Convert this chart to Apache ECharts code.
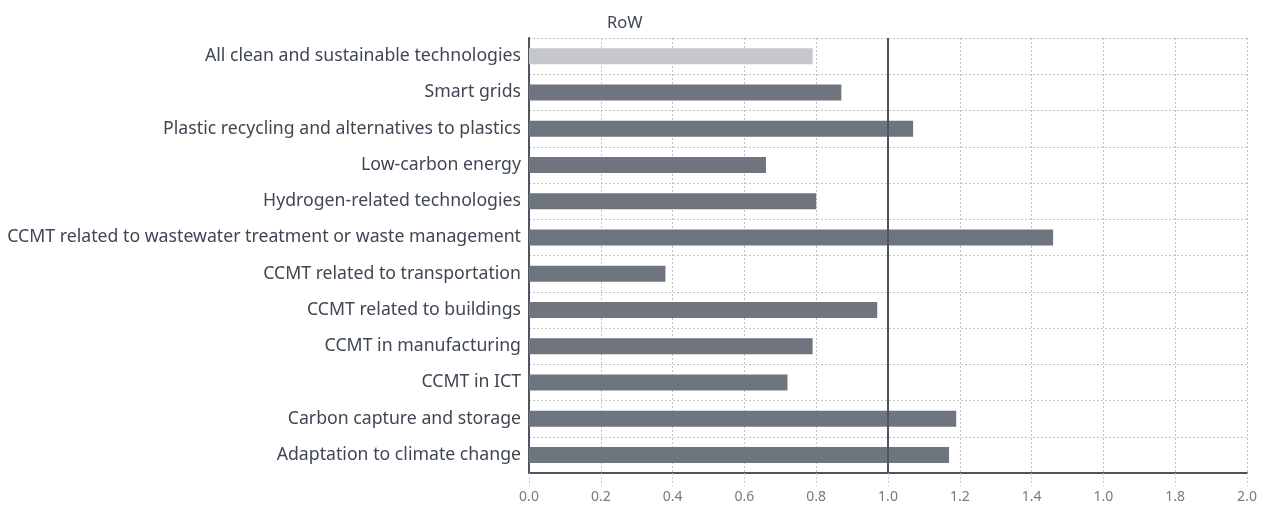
<!DOCTYPE html>
<html>
<head>
<meta charset="utf-8">
<script src="https://cdn.jsdelivr.net/npm/echarts@6/dist/echarts.min.js"></script>
<style>
  html, body { margin: 0; padding: 0; background: #ffffff; }
  #chart { width: 1263px; height: 511px; }
</style>
</head>
<body>
<div id="chart"></div>
<script>
// Technology fields, top to bottom
const categories = [
  'All clean and sustainable technologies',
  'Smart grids',
  'Plastic recycling and alternatives to plastics',
  'Low-carbon energy',
  'Hydrogen-related technologies',
  'CCMT related to wastewater treatment or waste management',
  'CCMT related to transportation',
  'CCMT related to buildings',
  'CCMT in manufacturing',
  'CCMT in ICT',
  'Carbon capture and storage',
  'Adaptation to climate change'
];

// Index values for RoW
const values = [0.79, 0.87, 1.07, 0.66, 0.80, 1.46, 0.38, 0.97, 0.79, 0.72, 1.19, 1.17];

// Labels printed under the value axis, one per 0.2 step
const xTickLabels = ['0.0', '0.2', '0.4', '0.6', '0.8', '1.0', '1.2', '1.4', '1.0', '1.8', '2.0'];

const panelTitle = 'RoW';
const referenceValue = 1.0;

const DARK = '#6e757f';
const LIGHT = '#c6c7ca';
const GRID = '#bfc2c7';
const AXIS = '#4d5464';

const chart = echarts.init(document.getElementById('chart'), null, { renderer: 'canvas' });

chart.setOption({
  backgroundColor: '#ffffff',
  animation: false,
  title: {
    text: panelTitle,
    left: 602,
    top: 10,
    textStyle: { fontFamily: 'Noto Sans', fontSize: 16.5, fontWeight: 'normal', color: '#3f4654' }
  },
  grid: { left: 529, right: 16, top: 38, bottom: 38, containLabel: false },
  xAxis: {
    type: 'value',
    min: 0,
    max: 2,
    interval: 0.2,
    axisLine: { show: true, lineStyle: { color: AXIS, width: 2 } },
    axisTick: { show: true, length: 13, lineStyle: { color: GRID, type: [2, 2], width: 1 } },
    axisLabel: {
      margin: 17,
      fontFamily: 'Noto Sans',
      fontSize: 14,
      color: '#737987',
      formatter: function (v) { return xTickLabels[Math.round(v / 0.2)]; }
    },
    splitLine: { show: true, lineStyle: { color: GRID, type: [2, 2], width: 1 } }
  },
  yAxis: {
    type: 'category',
    data: categories,
    inverse: true,
    boundaryGap: true,
    axisLine: { show: true, lineStyle: { color: AXIS, width: 2 } },
    axisTick: { show: false },
    axisLabel: {
      margin: 8,
      fontFamily: 'Noto Sans',
      fontSize: 17.7,
      color: '#3f4654'
    },
    splitLine: { show: true, interval: 0, lineStyle: { color: GRID, type: [2, 2], width: 1 } }
  },
  series: [{
    type: 'bar',
    barWidth: 16,
    data: values.map(function (v, i) {
      return { value: v, itemStyle: { color: i === 0 ? LIGHT : DARK } };
    }),
    markLine: {
      silent: true,
      symbol: ['none', 'none'],
      label: { show: false },
      lineStyle: { color: AXIS, width: 2, type: 'solid' },
      data: [{ xAxis: referenceValue }]
    }
  }]
});
</script>
</body>
</html>
